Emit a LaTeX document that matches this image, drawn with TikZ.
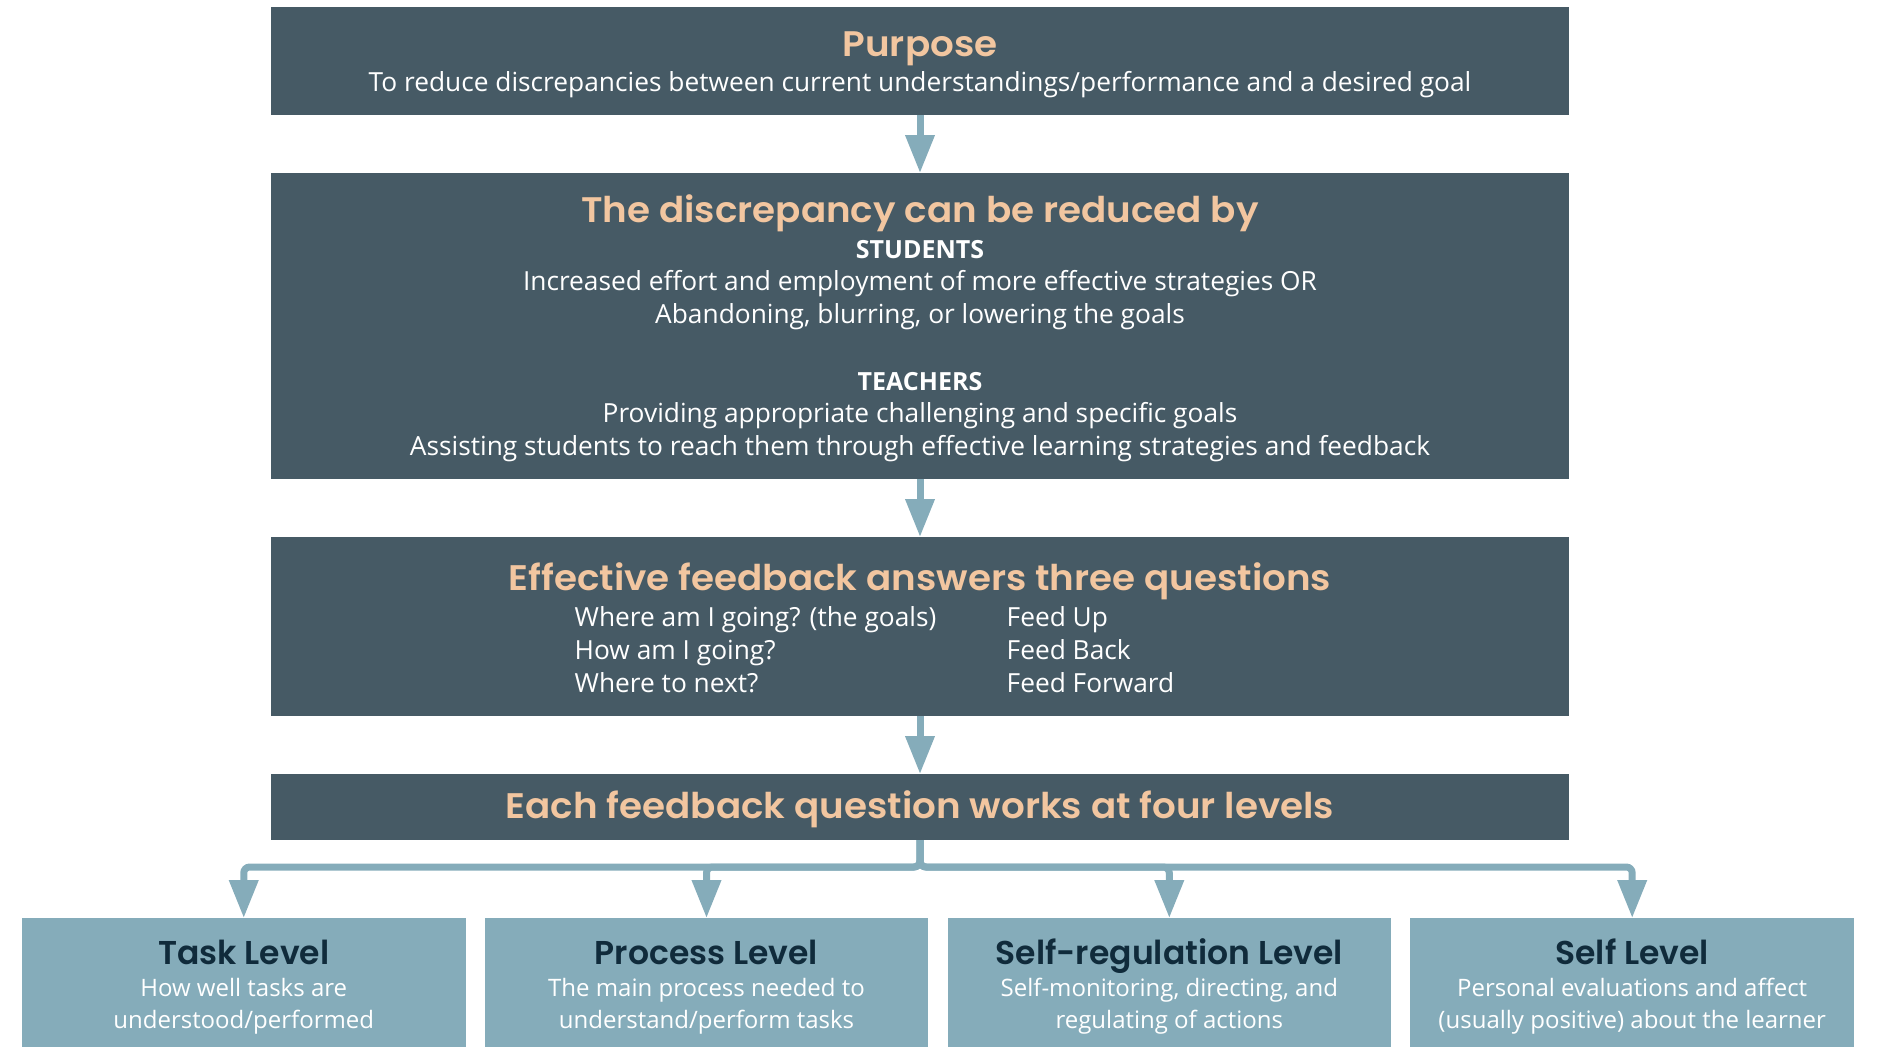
\documentclass[tikz,border=0pt]{standalone}
\usepackage{fontspec}
\setmainfont{Open Sans}
\IfFontExistsTF{Poppins SemiBold}
  {\newfontfamily\headfont{Poppins SemiBold}[FakeStretch=1.05]
   \newfontfamily\levelfont{Poppins SemiBold}}
  {\newfontfamily\headfontx{Poppins}[FakeStretch=1.05]\newcommand\headfont{\headfontx\bfseries}
   \newfontfamily\levelfontx{Poppins}\newcommand\levelfont{\levelfontx\bfseries}}
\usetikzlibrary{arrows.meta,positioning}
\definecolor{boxslate}{HTML}{465A65}
\definecolor{headpeach}{HTML}{F2C6A0}
\definecolor{levelblue}{HTML}{85ACBA}
\definecolor{levelnavy}{HTML}{102B3B}

\tikzset{
  mainbox/.style={fill=boxslate, minimum width=1298pt, inner sep=0pt, outer sep=0pt},
  levelbox/.style={fill=levelblue, minimum width=443.5pt, minimum height=129pt, inner sep=0pt, outer sep=0pt},
  headtxt/.style={text=headpeach, font=\headfont\fontsize{35.5}{40}\selectfont, anchor=base, inner sep=0pt},
  leveltxt/.style={text=levelnavy, font=\levelfont\fontsize{33}{40}\selectfont, anchor=base, inner sep=0pt},
  bodytxt/.style={text=white, font=\fontsize{26.3}{33}\selectfont, anchor=base, inner sep=0pt},
  levelbody/.style={bodytxt, font=\fontsize{24}{33}\selectfont},
  flow/.style={draw=levelblue, line width=7pt, -{Triangle[width=28pt,length=38pt]}},
}

\begin{document}
\begin{tikzpicture}[x=1pt,y=-1pt]
    \useasboundingbox (0,0) rectangle (1886,1062);

    % main column, one box under the other
    \node[mainbox, minimum height=108pt] (purpose) at (920,61) {};
    \node[mainbox, minimum height=306pt] (reduce) at (920,326) {};
    \node[mainbox, minimum height=179pt] (questions) at (920,626.5) {};
    \node[mainbox, minimum height=66pt] (levels) at (920,807) {};

    % purpose
    \node[headtxt] (purposeT) at (920,57) {Purpose};
    \node[bodytxt] (purposeB) at (920,91.5) {To reduce discrepancies between current understandings/performance and a desired goal};

    % reduced by
    \node[headtxt] (reduceT) at (920,222) {The discrepancy can be reduced by};
    \node[bodytxt, font=\bfseries\fontsize{25}{33}\selectfont] (students) at (920,258) {STUDENTS};
    \node[bodytxt] (studentsA) at (920,290) {Increased effort and employment of more effective strategies OR};
    \node[bodytxt] (studentsB) at (920,323) {Abandoning, blurring, or lowering the goals};
    \node[bodytxt, font=\bfseries\fontsize{25}{33}\selectfont] (teachers) at (920,390) {TEACHERS};
    \node[bodytxt] (teachersA) at (920,422) {Providing appropriate challenging and specific goals};
    \node[bodytxt] (teachersB) at (920,455) {Assisting students to reach them through effective learning strategies and feedback};

    % three questions
    \node[headtxt] (questionsT) at (920,590) {Effective feedback answers three questions};
    \foreach \i/\y/\q/\f in {1/626/{Where am I going? (the goals)}/Feed Up,
                             2/659/{How am I going?}/Feed Back,
                             3/692/{Where to next?}/Feed Forward}{
        \node[bodytxt, anchor=base west] (q\i) at (574.5,\y) {\q};
        \node[bodytxt, anchor=base west] (f\i) at (1006.5,\y) {\f};
    }

    % four levels
    \node[headtxt] (levelsT) at (920,818) {Each feedback question works at four levels};

    % arrows down the column
    \draw[flow] (purpose.south) -- (reduce.north);
    \draw[flow] (reduce.south) -- (questions.north);
    \draw[flow] (questions.south) -- (levels.north);

    % the levels, fed from one bar
    \foreach \name/\cx/\ttl/\la/\lb in {
        task/243.75/{Task Level}/{How well tasks are}/{understood/performed},
        process/706.5/{Process Level}/{The main process needed to}/{understand/perform tasks},
        selfreg/1169.3/{Self-regulation Level}/{Self-monitoring, directing, and}/{regulating of actions},
        self/1632.2/{Self Level}/{Personal evaluations and affect}/{(usually positive) about the learner}}{
        \node[levelbox] (\name) at (\cx,982.5) {};
        \node[leveltxt] (\name T) at (\cx,964) {\ttl};
        \node[levelbody] (\name A) at (\cx,996) {\la};
        \node[levelbody] (\name B) at (\cx,1028) {\lb};
        \draw[flow, rounded corners=6pt] (levels.south) -- ++(0,27) -| (\name.north);
    }

\end{tikzpicture}
\end{document}
